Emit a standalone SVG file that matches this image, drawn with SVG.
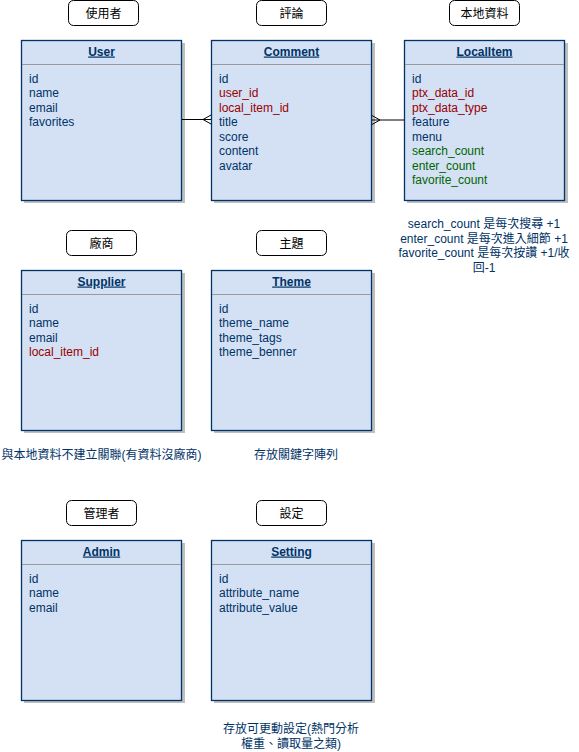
<svg xmlns="http://www.w3.org/2000/svg" width="579" height="752" viewBox="0 0 579 752">
<style>
text{font-family:"Liberation Sans","Noto Sans CJK TC",sans-serif;font-size:12px;}
.lbl{fill:#fff;stroke:#000;stroke-width:1;}
.lt{fill:#000;text-anchor:middle;}
.box{fill:#D4E1F5;stroke:#003366;stroke-width:1.3;}
.sh{fill:#000;opacity:0.25;}
.sep{stroke:#999;stroke-width:1;}
.hd{fill:#003366;font-weight:bold;text-decoration:underline;text-anchor:middle;}
.f{fill:#003366;}
.r{fill:#990000;}
.g{fill:#006600;}
.note{fill:#003366;text-anchor:middle;}
.con{stroke:#000;stroke-width:1;fill:none;}
</style>
<rect width="579" height="752" fill="#fff"/>

<g id="label-user"><rect class="lbl" x="68.5" y="0.5" width="70" height="25" rx="5"/><text class="lt" x="103.5" y="17.5">使用者</text></g>
<g id="label-comment"><rect class="lbl" x="256.5" y="0.5" width="70" height="25" rx="5"/><text class="lt" x="291.5" y="17.5">評論</text></g>
<g id="label-localitem"><rect class="lbl" x="449.5" y="0.5" width="70" height="25" rx="5"/><text class="lt" x="484.5" y="17.5">本地資料</text></g>
<g id="label-supplier"><rect class="lbl" x="66.5" y="230.5" width="70" height="25" rx="5"/><text class="lt" x="101.5" y="247.5">廠商</text></g>
<g id="label-theme"><rect class="lbl" x="256.5" y="230.5" width="70" height="25" rx="5"/><text class="lt" x="291.5" y="247.5">主題</text></g>
<g id="label-admin"><rect class="lbl" x="66.5" y="500.5" width="70" height="25" rx="5"/><text class="lt" x="101.5" y="517.5">管理者</text></g>
<g id="label-setting"><rect class="lbl" x="256.5" y="500.5" width="70" height="25" rx="5"/><text class="lt" x="291.5" y="517.5">設定</text></g>

<g id="User">
<rect class="sh" x="24" y="43" width="161" height="160"/>
<rect class="box" x="21.5" y="40.5" width="160" height="160"/>
<line class="sep" x1="22" y1="64.5" x2="181" y2="64.5"/>
<text class="hd" x="101.5" y="55.5">User</text>
<text class="f" x="29" y="82.5">id</text>
<text class="f" x="29" y="97">name</text>
<text class="f" x="29" y="111.5">email</text>
<text class="f" x="29" y="126">favorites</text>
</g>

<g id="Comment">
<rect class="sh" x="214" y="43" width="161" height="160"/>
<rect class="box" x="211.5" y="40.5" width="160" height="160"/>
<line class="sep" x1="212" y1="64.5" x2="371" y2="64.5"/>
<text class="hd" x="291.5" y="55.5">Comment</text>
<text class="f" x="219" y="82.5">id</text>
<text class="r" x="219" y="97">user_id</text>
<text class="r" x="219" y="111.5">local_item_id</text>
<text class="f" x="219" y="126">title</text>
<text class="f" x="219" y="140.5">score</text>
<text class="f" x="219" y="155">content</text>
<text class="f" x="219" y="169.5">avatar</text>
</g>

<g id="LocalItem">
<rect class="sh" x="407" y="43" width="161" height="160"/>
<rect class="box" x="404.5" y="40.5" width="160" height="160"/>
<line class="sep" x1="405" y1="64.5" x2="564" y2="64.5"/>
<text class="hd" x="484.5" y="55.5">LocalItem</text>
<text class="f" x="412" y="82.5">id</text>
<text class="r" x="412" y="97">ptx_data_id</text>
<text class="r" x="412" y="111.5">ptx_data_type</text>
<text class="f" x="412" y="126">feature</text>
<text class="f" x="412" y="140.5">menu</text>
<text class="g" x="412" y="155">search_count</text>
<text class="g" x="412" y="169.5">enter_count</text>
<text class="g" x="412" y="184">favorite_count</text>
</g>

<g id="Supplier">
<rect class="sh" x="24" y="273" width="161" height="160"/>
<rect class="box" x="21.5" y="270.5" width="160" height="160"/>
<line class="sep" x1="22" y1="294.5" x2="181" y2="294.5"/>
<text class="hd" x="101.5" y="285.5">Supplier</text>
<text class="f" x="29" y="312.5">id</text>
<text class="f" x="29" y="327">name</text>
<text class="f" x="29" y="341.5">email</text>
<text class="r" x="29" y="356">local_item_id</text>
</g>

<g id="Theme">
<rect class="sh" x="214" y="273" width="161" height="160"/>
<rect class="box" x="211.5" y="270.5" width="160" height="160"/>
<line class="sep" x1="212" y1="294.5" x2="371" y2="294.5"/>
<text class="hd" x="291.5" y="285.5">Theme</text>
<text class="f" x="219" y="312.5">id</text>
<text class="f" x="219" y="327">theme_name</text>
<text class="f" x="219" y="341.5">theme_tags</text>
<text class="f" x="219" y="356">theme_benner</text>
</g>

<g id="Admin">
<rect class="sh" x="24" y="543" width="161" height="160"/>
<rect class="box" x="21.5" y="540.5" width="160" height="160"/>
<line class="sep" x1="22" y1="564.5" x2="181" y2="564.5"/>
<text class="hd" x="101.5" y="555.5">Admin</text>
<text class="f" x="29" y="582.5">id</text>
<text class="f" x="29" y="597">name</text>
<text class="f" x="29" y="611.5">email</text>
</g>

<g id="Setting">
<rect class="sh" x="214" y="543" width="161" height="160"/>
<rect class="box" x="211.5" y="540.5" width="160" height="160"/>
<line class="sep" x1="212" y1="564.5" x2="371" y2="564.5"/>
<text class="hd" x="291.5" y="555.5">Setting</text>
<text class="f" x="219" y="582.5">id</text>
<text class="f" x="219" y="597">attribute_name</text>
<text class="f" x="219" y="611.5">attribute_value</text>
</g>

<g id="notes">
<text class="note" x="484" y="228">search_count 是每次搜尋 +1</text>
<text class="note" x="484" y="242.5">enter_count 是每次進入細節 +1</text>
<text class="note" x="484" y="257">favorite_count 是每次按讚 +1/收</text>
<text class="note" x="484" y="271.5">回-1</text>
<text class="note" x="101.5" y="459">與本地資料不建立關聯(有資料沒廠商)</text>
<text class="note" x="296" y="459">存放關鍵字陣列</text>
<text class="note" x="291" y="733">存放可更動設定(熱門分析</text>
<text class="note" x="291" y="748">權重、讀取量之類)</text>
</g>

<g id="connectors">
<path class="con" d="M182 119.5 H211"/>
<path class="con" d="M211 115 L203 119.5 L211 124"/>
<path class="con" d="M372 120 H404"/>
<path class="con" d="M372 115.5 L380 120 L372 124.5"/>
</g>
</svg>
